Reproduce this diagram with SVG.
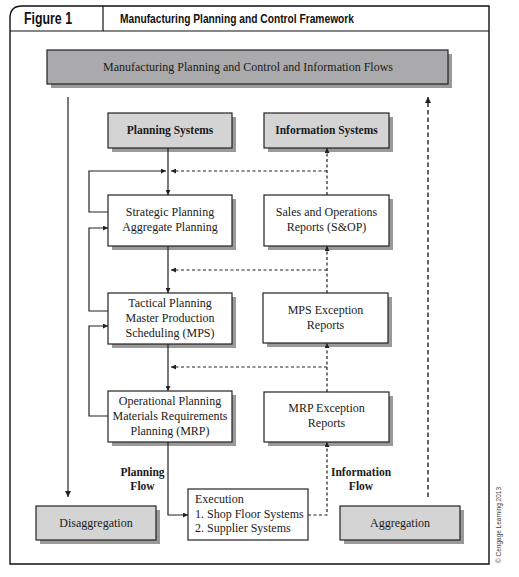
<svg xmlns="http://www.w3.org/2000/svg" width="519" height="577" viewBox="0 0 519 577">
<style>
.sh{fill:#9a9a9a}
.bx{fill:#fff;stroke:#222;stroke-width:1.2}
.gb{fill:#d4d4d4;stroke:#222;stroke-width:1.2}
.db{fill:#aaaaac;stroke:#222;stroke-width:1.2}
.t{font-family:"Liberation Serif","Times New Roman",serif;font-size:12px;fill:#1a1a1a;text-anchor:middle}
.ts{font-family:"Liberation Serif","Times New Roman",serif;font-size:12px;fill:#1a1a1a;text-anchor:start}
.tb{font-family:"Liberation Serif","Times New Roman",serif;font-size:11.5px;font-weight:bold;fill:#1a1a1a;text-anchor:middle}
.ln{fill:none;stroke:#222;stroke-width:1.2}
.ds{fill:none;stroke:#222;stroke-width:1.2;stroke-dasharray:3 2.5}
.dl{fill:none;stroke:#222;stroke-width:1.4;stroke-dasharray:4.5 3}
.hd{font-family:"Liberation Sans",Arial,sans-serif;font-weight:bold;fill:#111}
</style>
<defs>
<marker id="ar" viewBox="0 0 10 10" refX="10" refY="5" markerWidth="5" markerHeight="5" orient="auto" markerUnits="userSpaceOnUse">
<path d="M0,0 L10,5 L0,10 z" fill="#222"/>
</marker>
<marker id="ar2" viewBox="0 0 10 10" refX="10" refY="5" markerWidth="6" markerHeight="7" orient="auto" markerUnits="userSpaceOnUse">
<path d="M0,0 L10,5 L0,10 z" fill="#222"/>
</marker>
</defs>
<rect width="519" height="577" fill="#fff"/>
<g id="frame">
<path d="M10,564 L10,18 Q10,6 22,6 L489,6 L489,564 Z" fill="none" stroke="#111" stroke-width="1.4"/>
<line x1="10" y1="31" x2="489" y2="31" stroke="#111" stroke-width="1.2"/>
<line x1="103" y1="6" x2="103" y2="31" stroke="#111" stroke-width="1.2"/>
<text class="hd" x="24" y="24" font-size="16" textLength="48" lengthAdjust="spacingAndGlyphs">Figure 1</text>
<text class="hd" x="120" y="22.5" font-size="12.5" textLength="234" lengthAdjust="spacingAndGlyphs">Manufacturing Planning and Control Framework</text>
<text transform="translate(501,563) rotate(-90)" font-family="Liberation Sans,Arial,sans-serif" font-size="7.5" fill="#444" textLength="76" lengthAdjust="spacingAndGlyphs">© Cengage Learning 2013</text>
</g>
<g id="banner">
<rect class="sh" x="51" y="54" width="401" height="34"/>
<rect class="db" x="47" y="50" width="401" height="34"/>
<text class="t" x="248" y="70.5">Manufacturing Planning and Control and Information Flows</text>
</g>
<g id="planning-systems">
<rect class="sh" x="112" y="117" width="124" height="35"/>
<rect class="gb" x="108" y="113" width="124" height="35"/>
<text class="tb" x="170" y="134">Planning Systems</text>
</g>
<g id="information-systems">
<rect class="sh" x="268" y="117" width="125" height="35"/>
<rect class="gb" x="264" y="113" width="125" height="35"/>
<text class="tb" x="326.5" y="134">Information Systems</text>
</g>
<g id="strategic">
<rect class="sh" x="112" y="199" width="124" height="51"/>
<rect class="bx" x="108" y="195" width="124" height="51"/>
<text class="t" x="170" y="216">Strategic Planning</text>
<text class="t" x="170" y="231">Aggregate Planning</text>
</g>
<g id="sop">
<rect class="sh" x="268" y="199" width="125" height="51"/>
<rect class="bx" x="264" y="195" width="125" height="51"/>
<text class="t" x="326.5" y="216">Sales and Operations</text>
<text class="t" x="326.5" y="231">Reports (S&amp;OP)</text>
</g>
<g id="tactical">
<rect class="sh" x="112" y="297" width="124" height="51"/>
<rect class="bx" x="108" y="293" width="124" height="51"/>
<text class="t" x="170" y="307">Tactical Planning</text>
<text class="t" x="170" y="322">Master Production</text>
<text class="t" x="170" y="337">Scheduling (MPS)</text>
</g>
<g id="mps-exception">
<rect class="sh" x="267" y="297" width="125" height="50"/>
<rect class="bx" x="263" y="293" width="125" height="50"/>
<text class="t" x="325.5" y="314">MPS Exception</text>
<text class="t" x="325.5" y="329">Reports</text>
</g>
<g id="operational">
<rect class="sh" x="112" y="395" width="124" height="51"/>
<rect class="bx" x="108" y="391" width="124" height="51"/>
<text class="t" x="170" y="405">Operational Planning</text>
<text class="t" x="170" y="420">Materials Requirements</text>
<text class="t" x="170" y="435">Planning (MRP)</text>
</g>
<g id="mrp-exception">
<rect class="sh" x="268" y="396" width="125" height="50"/>
<rect class="bx" x="264" y="392" width="125" height="50"/>
<text class="t" x="326.5" y="412">MRP Exception</text>
<text class="t" x="326.5" y="427">Reports</text>
</g>
<g id="execution">
<rect class="bx" x="188" y="489" width="120" height="51"/>
<text class="ts" x="195" y="503">Execution</text>
<text class="ts" x="195" y="518">1. Shop Floor Systems</text>
<text class="ts" x="195" y="532">2. Supplier Systems</text>
</g>
<g id="disaggregation">
<rect class="sh" x="40" y="510" width="120" height="34"/>
<rect class="gb" x="36" y="506" width="120" height="34"/>
<text class="t" x="96" y="527">Disaggregation</text>
</g>
<g id="aggregation">
<rect class="sh" x="344" y="510" width="120" height="34"/>
<rect class="gb" x="340" y="506" width="120" height="34"/>
<text class="t" x="400" y="527">Aggregation</text>
</g>
<g id="labels">
<text class="tb" x="142.5" y="476">Planning</text>
<text class="tb" x="142.5" y="490">Flow</text>
<text class="tb" x="361" y="476">Information</text>
<text class="tb" x="361" y="490">Flow</text>
</g>
<g id="connectors">
<line class="ln" x1="68" y1="97" x2="68" y2="497" marker-end="url(#ar2)"/>
<line class="dl" x1="428" y1="497" x2="428" y2="97" marker-end="url(#ar2)"/>
<line class="ln" x1="168" y1="148" x2="168" y2="195" marker-end="url(#ar)"/>
<polyline class="ln" points="108,212 89,212 89,171 166,171" marker-end="url(#ar)"/>
<line class="ds" x1="327" y1="171" x2="171" y2="171" marker-end="url(#ar)"/>
<line class="ds" x1="327" y1="195" x2="327" y2="148" marker-end="url(#ar)"/>
<polyline class="ln" points="108,311 89,311 89,228 108,228" marker-end="url(#ar)"/>
<line class="ln" x1="168" y1="246" x2="168" y2="293" marker-end="url(#ar)"/>
<line class="ds" x1="327" y1="270" x2="171" y2="270" marker-end="url(#ar)"/>
<line class="ds" x1="327" y1="293" x2="327" y2="246" marker-end="url(#ar)"/>
<polyline class="ln" points="108,416 89,416 89,326 108,326" marker-end="url(#ar)"/>
<line class="ln" x1="168" y1="344" x2="168" y2="391" marker-end="url(#ar)"/>
<line class="ds" x1="327" y1="367" x2="171" y2="367" marker-end="url(#ar)"/>
<line class="ds" x1="327" y1="392" x2="327" y2="343" marker-end="url(#ar)"/>
<polyline class="ln" points="168,442 168,515 188,515" marker-end="url(#ar)"/>
<polyline class="ds" points="308,515 327,515 327,442" marker-end="url(#ar)"/>
</g>
</svg>
